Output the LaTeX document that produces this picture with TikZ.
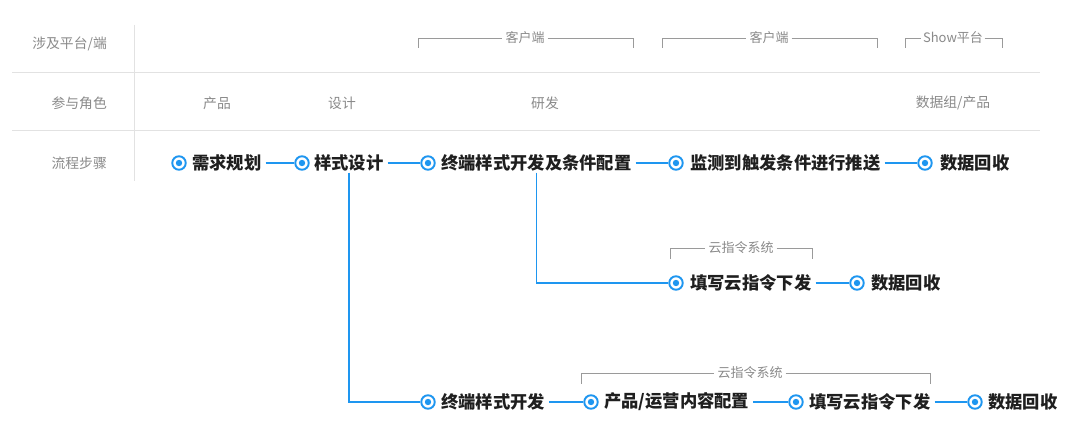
\documentclass[tikz,border=0pt]{standalone}
\usepackage{fontspec}
\setmainfont{Noto Sans CJK SC}
\definecolor{blu}{HTML}{1E96F0}
\definecolor{txt}{HTML}{1F1F1F}
\definecolor{lbl}{HTML}{8A8A8A}
\definecolor{rule}{HTML}{E2E2E2}
\definecolor{brk}{HTML}{9A9A9A}
\tikzset{
  dot/.style={circle,draw=blu,line width=1.9pt,minimum size=13.5pt,inner sep=0pt,fill=white,
    path picture={\fill[blu] (path picture bounding box.center) circle (3.2pt);}},
  steptxt/.style={anchor=west,inner sep=4pt,text=txt,font=\fontsize{17.3}{17.3}\selectfont\bfseries},
  conn/.style={draw=blu,line width=1.4pt},
  hdr/.style={text=lbl,font=\fontsize{13.8}{13.8}\selectfont,inner sep=0pt},
  grp/.style={text=lbl,font=\fontsize{13}{13}\selectfont,inner sep=3pt},
  brack/.style={draw=brk,line width=0.8pt},
  sep/.style={draw=rule,line width=1pt}
}
\begin{document}
\begin{tikzpicture}[x=1pt,y=-1pt]
\useasboundingbox[fill=white] (0,0) rectangle (1080,446);
% grid
\coordinate (h1a) at (12,73); \coordinate (h1b) at (1040,73);
\coordinate (h2a) at (12,131); \coordinate (h2b) at (1040,131);
\coordinate (va) at (134,25); \coordinate (vb) at (134,181);
\draw[sep] (h1a) -- (h1b);
\draw[sep] (h2a) -- (h2b);
\draw[sep] (va) -- (vb);
% left labels
\node[hdr,anchor=east] (l1) at (107,44) {涉及平台/端};
\node[hdr,anchor=east] (l2) at (107,103) {参与角色};
\node[hdr,anchor=east] (l3) at (107,163) {流程步骤};
% roles
\node[hdr] (r1) at (217,103) {产品};
\node[hdr] (r2) at (342,103) {设计};
\node[hdr] (r3) at (545,103) {研发};
\node[hdr] (r4) at (953,103) {数据组/产品};
% platform brackets
\node[grp] (p1) at (525,38) {客户端};
\draw[brack] (418,48) -- (418,38) -- (p1.west);
\draw[brack] (p1.east) -- (633,38) -- (633,48);
\node[grp] (p2) at (769,38) {客户端};
\draw[brack] (662,48) -- (662,38) -- (p2.west);
\draw[brack] (p2.east) -- (877,38) -- (877,48);
\node[grp,inner sep=1.5pt] (p3) at (953,38) {Show平台};
\draw[brack] (905,48) -- (905,38) -- (p3.west);
\draw[brack] (p3.east) -- (1002,38) -- (1002,48);
% row 1
\node[dot] (c1) at (179,163) {};
\node[steptxt] (t1) at (188,163) {需求规划};
\node[dot] (c2) at (302,163) {};
\node[steptxt] (t2) at (310,163) {样式设计};
\node[dot] (c3) at (428,163) {};
\node[steptxt] (t3) at (437,163) {终端样式开发及条件配置};
\node[dot] (c4) at (676,163) {};
\node[steptxt] (t4) at (686,163) {监测到触发条件进行推送};
\node[dot] (c5) at (925,163) {};
\node[steptxt] (t5) at (936,163) {数据回收};
\draw[conn] (t1.east) -- (c2.west);
\draw[conn] (t2.east) -- (c3.west);
\draw[conn] (t3.east) -- (c4.west);
\draw[conn] (t4.east) -- (c5.west);
% row 2
\node[dot] (c6) at (676,283) {};
\node[steptxt] (t6) at (686,283) {填写云指令下发};
\node[dot] (c7) at (857,283) {};
\node[steptxt] (t7) at (867,283) {数据回收};
\draw[conn] (t6.east) -- (c7.west);
\draw[conn] ([yshift=3pt]t3.south) |- (c6.west);
\node[grp] (g1) at (741,248) {云指令系统};
\draw[brack] (670,259) -- (670,248) -- (g1.west);
\draw[brack] (g1.east) -- (812,248) -- (812,259);
% row 3
\node[dot] (c8) at (428,402) {};
\node[steptxt] (t8) at (437,402) {终端样式开发};
\node[dot] (c9) at (591,402) {};
\node[steptxt] (t9) at (600,402) {产品/运营内容配置};
\node[dot] (c10) at (796,402) {};
\node[steptxt] (t10) at (805,402) {填写云指令下发};
\node[dot] (c11) at (975,402) {};
\node[steptxt] (t11) at (984,402) {数据回收};
\draw[conn] (t8.east) -- (c9.west);
\draw[conn] (t9.east) -- (c10.west);
\draw[conn] (t10.east) -- (c11.west);
\draw[conn] ([yshift=3pt]t2.south) |- (c8.west);
\node[grp] (g2) at (750,373) {云指令系统};
\draw[brack] (581,384) -- (581,373) -- (g2.west);
\draw[brack] (g2.east) -- (930,373) -- (930,384);
\end{tikzpicture}
\end{document}
